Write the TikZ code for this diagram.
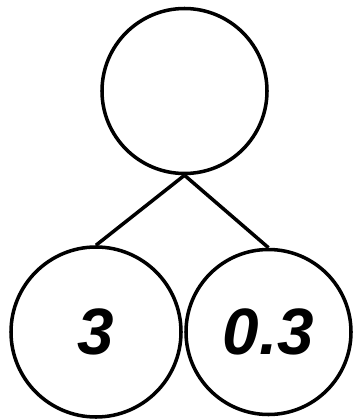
\documentclass[tikz,border=0pt]{standalone}
\usepackage{fontspec}
\newfontfamily\numfont{Liberation Sans}
\usetikzlibrary{positioning}

\begin{document}
\begin{tikzpicture}[x=0.03cm,y=-0.03cm,
  bubble/.style={circle,draw,line width=3pt,inner sep=0pt,minimum size=4.95cm},
  numtext/.style={font=\numfont\bfseries\itshape\fontsize{56}{60}\selectfont}]
\useasboundingbox (0,0) rectangle (353,420);
% --- whole (top) ---
\node[bubble] (whole) at (184.5,91) {};
% --- parts (bottom) ---
\node[bubble,minimum size=5.1cm,numtext] (partA) at (96,332) {3};
\node[bubble,numtext] (partB) at (268.5,332) {0.3};
\draw[line width=3pt] (whole.south) -- (partA.north);
\draw[line width=3pt] (whole.south) -- (partB.north);
\end{tikzpicture}
\end{document}
